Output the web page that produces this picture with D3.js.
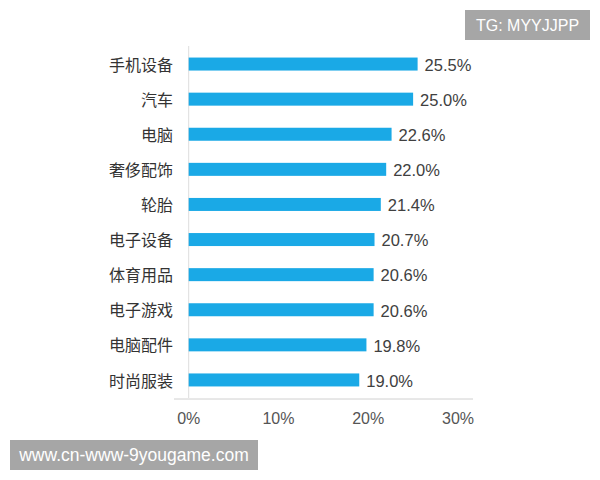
<!DOCTYPE html>
<html><head><meta charset="utf-8">
<script src="https://cdn.jsdelivr.net/npm/d3@7"></script>
<style>body{margin:0;background:#fff}svg{display:block}</style>
</head><body>
<script>
const categories = ["手机设备","汽车","电脑","奢侈配饰","轮胎","电子设备","体育用品","电子游戏","电脑配件","时尚服装"];
const values = [25.5,25.0,22.6,22.0,21.4,20.7,20.6,20.6,19.8,19.0];
const ticks = [0,10,20,30];

const W=600,H=480;
const svg=d3.select("body").append("svg").attr("width",W).attr("height",H);
const font="'Noto Sans CJK SC','Noto Sans',sans-serif";
const lat="'Liberation Sans',Arial,sans-serif";
const x=d3.scaleLinear().domain([0,30]).range([188.7,458]);
const y=d3.scaleBand().domain(categories).range([46.5,397.5]).paddingInner(0.6).paddingOuter(0.3);

svg.append("line").attr("x1",x(0)).attr("x2",x(0)).attr("y1",46).attr("y2",398).attr("stroke","#ddd").attr("stroke-width",1);
svg.append("line").attr("x1",174).attr("x2",473).attr("y1",399).attr("y2",399).attr("stroke","#d0d0d0").attr("stroke-width",1);

const data=categories.map((c,i)=>({c,v:values[i]}));
svg.selectAll("rect.bar").data(data).enter().append("rect").attr("class","bar")
  .attr("x",x(0)).attr("y",d=>y(d.c)+y.bandwidth()/2-6.5).attr("width",d=>x(d.v)-x(0)).attr("height",13)
  .attr("fill","#1aa9e6");
svg.selectAll("text.cat").data(data).enter().append("text").attr("class","cat")
  .attr("x",173).attr("y",d=>y(d.c)+y.bandwidth()/2+1).attr("dy","0.35em").attr("text-anchor","end")
  .attr("font-family",font).attr("font-size",16).attr("fill","#333").text(d=>d.c);
svg.selectAll("text.val").data(data).enter().append("text").attr("class","val")
  .attr("x",d=>x(d.v)+7).attr("y",d=>y(d.c)+y.bandwidth()/2+1).attr("dy","0.35em")
  .attr("font-family",lat).attr("font-size",16.5).attr("fill","#404040").text(d=>d.v.toFixed(1)+"%");
svg.selectAll("text.tick").data(ticks).enter().append("text").attr("class","tick")
  .attr("x",d=>x(d)).attr("y",418).attr("dy","0.35em").attr("text-anchor","middle")
  .attr("font-family",lat).attr("font-size",16).attr("fill","#555").text(d=>d+"%");

svg.append("rect").attr("x",465).attr("y",10).attr("width",125).attr("height",30).attr("fill","#a6a6a6");
svg.append("text").attr("x",527.5).attr("y",25).attr("dy","0.35em").attr("text-anchor","middle")
  .attr("font-family",lat).attr("font-size",16).attr("fill","#fff").text("TG: MYYJJPP");
svg.append("rect").attr("x",10).attr("y",440).attr("width",248).attr("height",30).attr("fill","#a6a6a6");
svg.append("text").attr("x",134).attr("y",455).attr("dy","0.35em").attr("text-anchor","middle")
  .attr("font-family",lat).attr("font-size",17.5).attr("fill","#fff").text("www.cn-www-9yougame.com");
</script>
</body></html>
